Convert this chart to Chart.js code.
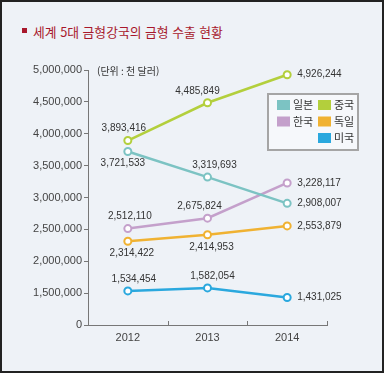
<!DOCTYPE html>
<html lang="ko">
<head>
    <meta charset="UTF-8">
    <title>세계 5대 금형강국의 금형 수출 현황</title>
    <script src="https://cdn.jsdelivr.net/npm/chart.js"></script>
    <style>
        body {
            margin: 0;
            background: #ffffff;
        }
        #marco {
            position: absolute;
            left: 0;
            top: 0;
            width: 380px;
            height: 369px;
            border: 2px solid #222;
            background: #eef2f7;
        }
        #titulo {
            position: absolute;
            left: 33px;
            top: 22px;
            font: 12.8px "Noto Sans CJK KR", sans-serif;
            color: #a8182c;
            white-space: nowrap;
        }
        #cuadro {
            position: absolute;
            left: 22px;
            top: 28px;
            width: 5px;
            height: 5px;
            background: #a8182c;
        }
        #grafica {
            position: absolute;
            left: 0;
            top: 0;
        }
    </style>
</head>
<body>
    <div id="marco"></div>
    <div id="cuadro"></div>
    <div id="titulo">세계 5대 금형강국의 금형 수출 현황</div>
    <canvas id="grafica" width="386" height="376"></canvas>

    <script>
        // Datos (단위: 천 달러)
        const anios = ['2012', '2013', '2014'];
        const paises = ['일본', '중국', '한국', '독일', '미국'];
        const japon = [3721533, 3319693, 2908007];
        const china = [3893416, 4485849, 4926244];
        const corea = [2512110, 2675824, 3228117];
        const alemania = [2314422, 2414953, 2553879];
        const eeuu = [1534454, 1582054, 1431025];
        const colores = ['#7cc3c3', '#b3cf3c', '#c4a0cb', '#f0b232', '#2aa8de'];

        // donde va cada etiqueta respecto al punto
        const posEtiquetas = [
            [['bottom', -5], ['top', 7], ['right', 10]],
            [['top', -4], ['top', -10], ['right', 10]],
            [['top', 2], ['top', -8], ['right', 10]],
            [['bottom', 4], ['bottom', 4], ['right', 10]],
            [['top', 6], ['top', 5], ['right', 10]]
        ];

        const fmt = v => v.toLocaleString('en-US');
        const fuente = '"Liberation Sans", Arial, sans-serif';

        const series = [japon, china, corea, alemania, eeuu];

        const extras = {
            id: 'extras',
            afterDatasetsDraw(chart) {
                const c = chart.ctx;
                const area = chart.chartArea;
                const x = chart.scales.x;

                // marcas del eje x hacia arriba
                c.save();
                c.strokeStyle = '#777';
                c.lineWidth = 1;
                const paso = x.getPixelForValue(1) - x.getPixelForValue(0);
                for (let i = 0; i < anios.length; i++) {
                    const px = Math.round(x.getPixelForValue(i) + paso / 2) + 0.5;
                    c.beginPath();
                    c.moveTo(px, area.bottom);
                    c.lineTo(px, area.bottom - 4);
                    c.stroke();
                }

                // unidad
                c.fillStyle = '#333';
                c.font = '10px "Noto Sans CJK KR", sans-serif';
                c.textBaseline = 'middle';
                c.textAlign = 'left';
                c.fillText('(단위 : 천 달러)', area.left + 9, area.top + 1);

                // etiquetas de valores
                c.font = '10px ' + fuente;
                c.fillStyle = '#333';
                chart.data.datasets.forEach((ds, d) => {
                    const meta = chart.getDatasetMeta(d);
                    meta.data.forEach((p, i) => {
                        const [lado, dx] = posEtiquetas[d][i];
                        const txt = fmt(ds.data[i]);
                        if (lado === 'right') {
                            c.textAlign = 'left';
                            c.fillText(txt, p.x + dx, p.y);
                        } else {
                            c.textAlign = 'center';
                            c.fillText(txt, p.x + dx, p.y + (lado === 'top' ? -12 : 12));
                        }
                    });
                });

                // leyenda
                const lx = 268, ly = 94, lw = 90, lh = 56;
                c.fillStyle = '#f6f8fb';
                c.fillRect(lx, ly, lw, lh);
                c.strokeStyle = '#a5a5a5';
                c.lineWidth = 2;
                c.strokeRect(lx, ly, lw, lh);
                c.font = '11px "Noto Sans CJK KR", sans-serif';
                c.textAlign = 'left';
                chart.data.datasets.forEach((ds, i) => {
                    let col = i % 2;
                    const fila = Math.floor(i / 2);
                    if (i === chart.data.datasets.length - 1 && col === 0) col = 1;
                    const sx = lx + 9 + col * 41;
                    const sy = ly + 6 + fila * 16.5;
                    c.fillStyle = ds.borderColor;
                    c.fillRect(sx, sy, 13, 10);
                    c.fillStyle = '#333';
                    c.fillText(ds.label, sx + 16, sy + 5);
                });
                c.restore();
            }
        };

        const datasets = paises.map((p, i) => ({
            label: p,
            data: series[i],
            borderColor: colores[i],
            backgroundColor: '#ffffff',
            borderWidth: 2.5,
            pointRadius: 3.5,
            pointBorderWidth: 2,
            pointBackgroundColor: '#ffffff',
            tension: 0
        }));

        new Chart(document.getElementById('grafica'), {
            type: 'line',
            data: { labels: anios, datasets: datasets },
            plugins: [extras],
            options: {
                responsive: false,
                animation: false,
                layout: { padding: { top: 70, right: 59, bottom: 0, left: 0 } },
                plugins: {
                    legend: { display: false },
                    tooltip: { enabled: false }
                },
                scales: {
                    x: {
                        type: 'category',
                        offset: true,
                        afterFit: s => { s.height = 51; },
                        grid: { drawOnChartArea: false, drawTicks: false, color: '#777' },
                        border: { color: '#777', width: 1 },
                        ticks: { color: '#444', padding: 6, font: { size: 11, family: fuente } }
                    },
                    y: {
                        min: 1000000,
                        max: 5000000,
                        afterFit: s => { s.width = 88; },
                        grid: { drawOnChartArea: false, tickLength: 4, color: '#777' },
                        border: { color: '#777', width: 1 },
                        ticks: {
                            stepSize: 500000,
                            padding: 2,
                            color: '#444',
                            font: { size: 11, family: fuente },
                            // el eje está cortado: la primera marca es el 0
                            callback: v => v === 1000000 ? '0' : fmt(v)
                        }
                    }
                }
            }
        });
    </script>
</body>
</html>
